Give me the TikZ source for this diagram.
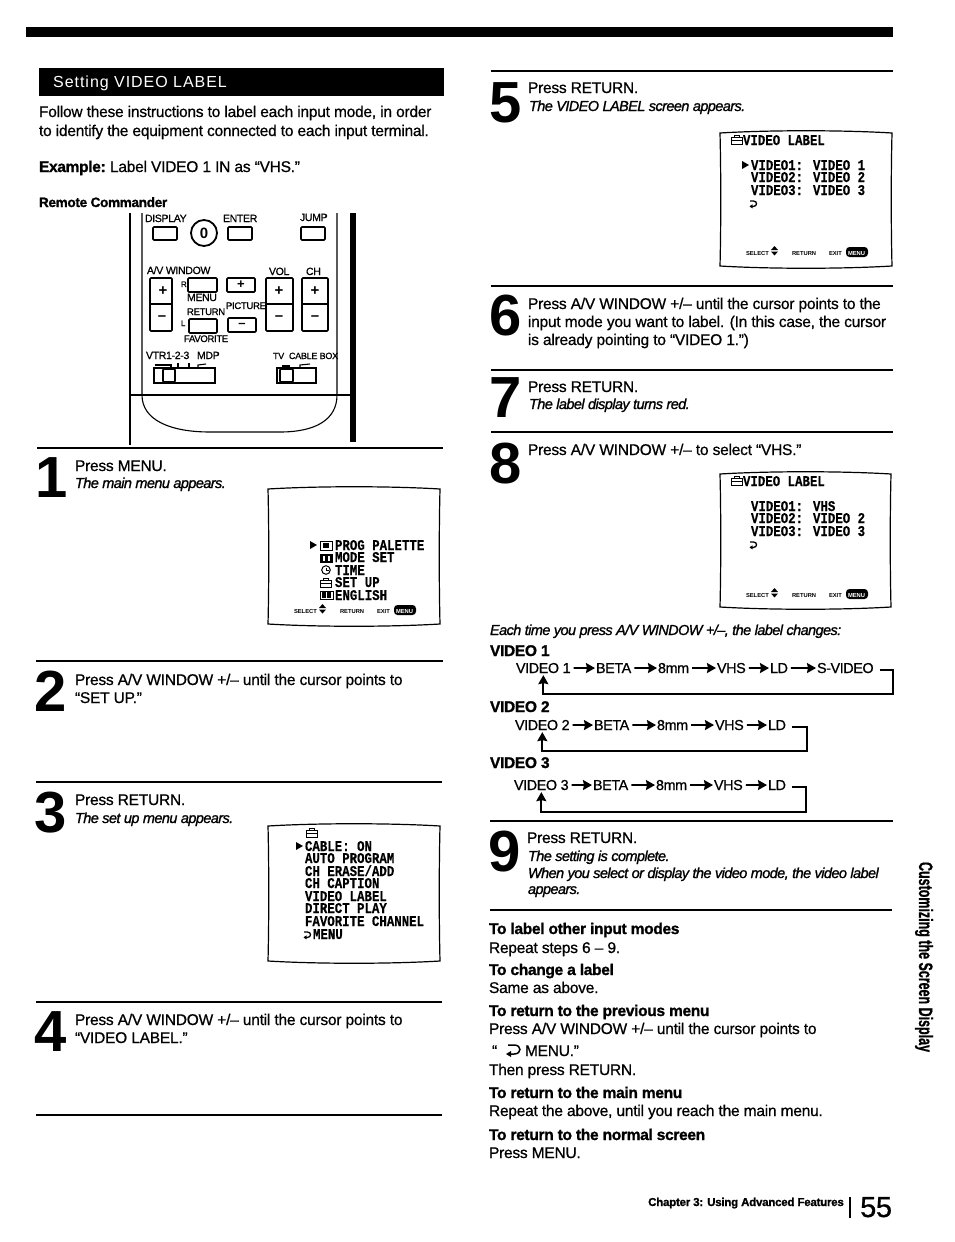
\documentclass[tikz,border=0pt]{standalone}
\usepackage{fontspec}
\usepackage{graphicx}
\setmainfont{Liberation Sans}
\newfontfamily\bodyf[LetterSpace=-1.5,FakeBold=0.7]{Liberation Sans}
\newfontfamily\flowf[LetterSpace=-3,FakeBold=0.7]{Liberation Sans}
\newfontfamily\headf[LetterSpace=-2,FakeBold=1.2]{Liberation Sans}
\newfontfamily\itf[LetterSpace=-4,FakeBold=1.2]{Liberation Sans}
\newfontfamily\plainf[LetterSpace=6]{Liberation Sans}
\newfontfamily\monof[FakeBold=0.4]{Liberation Mono}
\newfontfamily\remf[LetterSpace=-3,FakeBold=0.7]{Liberation Sans}
\newfontfamily\sidef[FakeBold=1]{Liberation Sans}
\usetikzlibrary{arrows.meta}
\tikzset{
  txt/.style={anchor=base west,inner sep=0pt,outer sep=0pt,font=\bodyf\fontsize{15.5}{18}\selectfont},
  hd/.style={anchor=base west,inner sep=0pt,outer sep=0pt,font=\headf\bfseries\fontsize{15.5}{18}\selectfont},
  ital/.style={anchor=base west,inner sep=0pt,outer sep=0pt,font=\itf\itshape\fontsize{14.5}{17}\selectfont},
  numeral/.style={anchor=base west,inner sep=0pt,outer sep=0pt,font=\bfseries\fontsize{58}{58}\selectfont},
  rem/.style={anchor=base west,inner sep=0pt,outer sep=0pt,font=\remf\fontsize{10.5}{11}\selectfont},
  scr/.style={anchor=base west,inner sep=0pt,outer sep=0pt,font=\monof\bfseries\fontsize{12.4}{12}\selectfont},
  ftr/.style={anchor=base west,inner sep=0pt,outer sep=0pt,font=\bfseries\fontsize{5.8}{6}\selectfont},
  flow/.style={anchor=base west,inner sep=0pt,outer sep=0pt,font=\flowf\fontsize{14.4}{18}\selectfont},
  rulel/.style={line width=1.8pt,black},
  btn/.style={draw=black,line width=1.7pt,rounded corners=1pt,fill=white},
  thin/.style={line width=1.1pt,black},
  screenbox/.style={draw=black,line width=1.2pt,fill=white},
  flowarr/.style={line width=1.7pt,black,-{Stealth[length=9pt,width=10pt,inset=1pt]}},
  steparr/.style={flowarr,shorten <=3pt,shorten >=1pt},
  iconl/.style={line width=1pt,black},
}
\newcommand{\screenshape}[4]{%
  \path[screenbox] (#1,#2+1) .. controls ({#1+50},{#2-2}) and ({#3-50},{#2-2}) .. (#3,#2+1)
    .. controls ({#3-1},{#2+40}) and ({#3-1},{#4-40}) .. (#3,#4-1)
    .. controls ({#3-50},{#4+2}) and ({#1+50},{#4+2}) .. (#1,#4-1)
    .. controls ({#1+1},{#4-40}) and ({#1+1},{#2+40}) .. cycle;}
\newcommand{\suitcase}[2]{%
  \draw[iconl] (#1,#2+2) rectangle ({#1+11},{#2+9});
  \draw[iconl] (#1,#2+5) -- ({#1+11},{#2+5});
  \draw[iconl] ({#1+3},#2+2) -- ({#1+3},#2) -- ({#1+8},#2) -- ({#1+8},#2+2);}
\newcommand{\retsym}[2]{%
  \draw[line width=1.3pt,black] (#1,#2) -- ({#1+3.5},#2) .. controls ({#1+7.5},#2) and ({#1+7.5},{#2+5.4}) .. ({#1+3.5},{#2+5.4}) -- (#1,{#2+5.4});
  \fill[black] ({#1-.5},{#2+5.4}) -- ({#1+2.5},{#2+3.4}) -- ({#1+2.5},{#2+7.4}) -- cycle;}
\newcommand{\rtri}[2]{\fill[black] (#1,{#2-4}) -- ({#1+7},#2) -- (#1,{#2+4}) -- cycle;}
\newcommand{\scrfoot}[3]{%
  \node[ftr] (#1sel) at (#2,#3) {SELECT};
  \fill[black] ({#2+25},{#3-5}) -- ({#2+28.5},{#3-9}) -- ({#2+32},{#3-5}) -- cycle;
  \fill[black] ({#2+25},{#3-3.5}) -- ({#2+28.5},{#3+.5}) -- ({#2+32},{#3-3.5}) -- cycle;
  \node[ftr] (#1ret) at ({#2+46},#3) {RETURN};
  \node[ftr] (#1exit) at ({#2+83},#3) {EXIT};
  \fill[black,rounded corners=3.5pt] ({#2+100},{#3-8}) rectangle ({#2+122},{#3+2});
  \node[ftr,text=white] (#1menu) at ({#2+102},#3) {MENU};}
\newcommand{\scrt}[1]{\scalebox{1}[1.2]{#1}}
\begin{document}
\begin{tikzpicture}[x=1pt,y=-1pt]
\useasboundingbox (0,0) rectangle (954,1242);
\fill[white] (0,0) rectangle (954,1242);
% top bar
\fill[black] (26,27) rectangle (893,37);
% heading bar
\fill[black] (39,68) rectangle (444,96);
\node[anchor=base west,inner sep=0pt,text=white,font=\plainf\fontsize{16}{18}\selectfont] (title) at (53,87) {Setting VIDEO LABEL};
\node[txt] (intro1) at (39,117) {Follow these instructions to label each input mode, in order};
\node[txt] (intro2) at (39,136) {to identify the equipment connected to each input terminal.};
\node[hd] (example) at (39,172) {Example:};
\node[txt] (examplet) at (110,172) {Label VIDEO 1 IN as “VHS.”};
\node[hd,font=\headf\bfseries\fontsize{13.5}{16}\selectfont] (remote) at (39,207) {Remote Commander};

% ---- remote
\draw[line width=1.6pt] (130,213) -- (130,445);
\draw[thin] (142,213) -- (142,395) .. controls (142,420) and (170,432) .. (210,432) -- (280,432) .. controls (315,432) and (337,420) .. (337,395) -- (337,213);
\fill[black] (350,213) rectangle (356,442);
\draw[thin] (130,395) -- (352,395);
\node[rem] (rdisplay) at (145,222) {DISPLAY};
\node[rem] (renter) at (223,222) {ENTER};
\node[rem] (rjump) at (300,221) {JUMP};
\draw[btn] (153,227) rectangle (177,240);
\draw[btn] (228,227) rectangle (252,240);
\draw[btn] (301,227) rectangle (325,240);
\draw[line width=1.8pt] (204,233) circle[radius=13];
\node[anchor=center,inner sep=0pt,font=\bfseries\fontsize{15}{15}\selectfont] (rzero) at (204,233) {0};
\node[rem] (rav) at (147,274) {A/V WINDOW};
\draw[btn] (150,278) rectangle (172,331);
\draw[line width=1.3pt] (150,304) -- (172,304);
\node[anchor=center,inner sep=0pt,font=\bfseries\fontsize{15}{15}\selectfont] (ravp) at (163,291) {+};
\node[anchor=center,inner sep=0pt,font=\bfseries\fontsize{15}{15}\selectfont] (ravm) at (162,318) {–};
\node[rem,font=\remf\fontsize{8}{9}\selectfont] (rr) at (181,287) {R};
\draw[btn] (188,278) rectangle (217,292);
\node[rem] (rmenu) at (187,301) {MENU};
\node[rem,font=\remf\fontsize{9.5}{10}\selectfont] (rreturn) at (187,315) {RETURN};
\node[rem,font=\remf\fontsize{8}{9}\selectfont] (rl) at (181,326) {L};
\draw[btn] (189,319) rectangle (217,333);
\node[rem,font=\remf\fontsize{9.5}{10}\selectfont] (rfav) at (184,342) {FAVORITE};
\draw[btn] (227,278) rectangle (255,292);
\node[anchor=center,inner sep=0pt,font=\bfseries\fontsize{13}{13}\selectfont] (rpp) at (241,285) {+};
\node[rem,font=\remf\fontsize{9.5}{10}\selectfont] (rpicture) at (226,309) {PICTURE};
\draw[btn] (228,318) rectangle (256,332);
\node[anchor=center,inner sep=0pt,font=\bfseries\fontsize{13}{13}\selectfont] (rpm) at (242,325) {–};
\node[rem] (rvol) at (269,275) {VOL};
\draw[btn] (266,278) rectangle (293,331);
\draw[line width=1.3pt] (266,304) -- (293,304);
\node[anchor=center,inner sep=0pt,font=\bfseries\fontsize{15}{15}\selectfont] (rvp) at (279,291) {+};
\node[anchor=center,inner sep=0pt,font=\bfseries\fontsize{15}{15}\selectfont] (rvm) at (279,318) {–};
\node[rem] (rch) at (306,275) {CH};
\draw[btn] (302,278) rectangle (328,331);
\draw[line width=1.3pt] (302,304) -- (328,304);
\node[anchor=center,inner sep=0pt,font=\bfseries\fontsize{15}{15}\selectfont] (rcp) at (315,291) {+};
\node[anchor=center,inner sep=0pt,font=\bfseries\fontsize{15}{15}\selectfont] (rcm) at (315,318) {–};
\node[rem] (rvtr) at (146,359) {VTR1-2-3};
\node[rem] (rmdp) at (197,359) {MDP};
\draw[thin] (155,365) -- (171,365) -- (171,368);
\draw[thin] (178,363) -- (178,367);
\draw[thin] (189,363) -- (189,367);
\draw[thin] (198,367) -- (198,365) -- (206,364);
\draw[line width=1.6pt] (154,368) rectangle (215,383);
\draw[btn] (163,369) rectangle (175,382);
\node[rem,font=\remf\fontsize{9}{10}\selectfont] (rtv) at (273,359) {TV};
\node[rem,font=\remf\fontsize{9}{10}\selectfont] (rcable) at (289,359) {CABLE BOX};
\draw[line width=1.6pt] (277,368) rectangle (316,383);
\draw[btn] (280,369) rectangle (293,382);
\draw[line width=2pt] (282,366) -- (290,366);
\draw[thin] (300,367) -- (300,365) -- (310,364);

% ---- left column
\draw[rulel] (37,448) -- (443,448);
\node[numeral] (n1) at (35,497) {1};
\node[txt] (s1a) at (75,471) {Press MENU.};
\node[ital] (s1b) at (75,488) {The main menu appears.};
\screenshape{268}{488}{440}{625}
\rtri{310}{545}
\draw[iconl] (320,541) rectangle (332,550);
\fill[black] (323,543) rectangle (329,548);
\node[scr] (m1) at (335,550) {\scrt{PROG PALETTE}};
\fill[black] (320,554) rectangle (333,563);
\fill[white] (323,556) rectangle (325,561);
\fill[white] (328,556) rectangle (330,561);
\node[scr] (m2) at (335,562) {\scrt{MODE SET}};
\draw[iconl] (326,570) circle[radius=4.3];
\draw[iconl] (326,567.5) -- (326,570) -- (329,570);
\node[scr] (m3) at (335,575) {\scrt{TIME}};
\suitcase{320}{578}
\node[scr] (m4) at (335,587) {\scrt{SET UP}};
\draw[iconl] (320,591) rectangle (333,599);
\fill[black] (322,592) rectangle (326,598);
\fill[black] (327,592) rectangle (331,598);
\node[scr] (m5) at (335,600) {\scrt{ENGLISH}};
\scrfoot{fa}{294}{613}

\draw[rulel] (36,661) -- (443,661);
\node[numeral] (n2) at (34,711) {2};
\node[txt] (s2a) at (75,685) {Press A/V WINDOW +/– until the cursor points to};
\node[txt] (s2b) at (75,703) {“SET UP.”};

\draw[rulel] (36,782) -- (442,782);
\node[numeral] (n3) at (34,832) {3};
\node[txt] (s3a) at (75,805) {Press RETURN.};
\node[ital] (s3b) at (75,823) {The set up menu appears.};
\screenshape{268}{825}{440}{962}
\suitcase{306}{828}
\rtri{296}{846}
\node[scr] (c1) at (305,851) {\scrt{CABLE: ON}};
\node[scr] (c2) at (305,863) {\scrt{AUTO PROGRAM}};
\node[scr] (c3) at (305,876) {\scrt{CH ERASE/ADD}};
\node[scr] (c4) at (305,888) {\scrt{CH CAPTION}};
\node[scr] (c5) at (305,901) {\scrt{VIDEO LABEL}};
\node[scr] (c6) at (305,913) {\scrt{DIRECT PLAY}};
\node[scr] (c7) at (305,926) {\scrt{FAVORITE CHANNEL}};
\retsym{304}{932}
\node[scr] (c8) at (313,939) {\scrt{MENU}};

\draw[rulel] (36,1002) -- (442,1002);
\node[numeral] (n4) at (34,1051) {4};
\node[txt] (s4a) at (75,1025) {Press A/V WINDOW +/– until the cursor points to};
\node[txt] (s4b) at (75,1043) {“VIDEO LABEL.”};
\draw[rulel] (36,1115) -- (442,1115);

% ---- right column
\draw[rulel] (491,71) -- (893,71);
\node[numeral] (n5) at (489,122) {5};
\node[txt] (s5a) at (528,93) {Press RETURN.};
\node[ital] (s5b) at (529,111) {The VIDEO LABEL screen appears.};
\screenshape{720}{132}{892}{267}
\suitcase{731}{135}
\node[scr] (v0) at (743,145) {\scrt{VIDEO LABEL}};
\rtri{742}{165}
\node[scr] (v1) at (751,170) {\scrt{VIDEO1: VIDEO 1}};
\node[scr] (v2) at (751,182) {\scrt{VIDEO2: VIDEO 2}};
\node[scr] (v3) at (751,195) {\scrt{VIDEO3: VIDEO 3}};
\retsym{750}{201}
\scrfoot{fb}{746}{255}

\draw[rulel] (491,286) -- (893,286);
\node[numeral] (n6) at (489,335) {6};
\node[txt] (s6a) at (528,309) {Press A/V WINDOW +/– until the cursor points to the};
\node[txt] (s6b) at (528,327) {input mode you want to label. (In this case, the cursor};
\node[txt] (s6c) at (528,345) {is already pointing to “VIDEO 1.”)};

\draw[rulel] (491,370) -- (893,370);
\node[numeral] (n7) at (489,417) {7};
\node[txt] (s7a) at (528,392) {Press RETURN.};
\node[ital] (s7b) at (529,409) {The label display turns red.};

\draw[rulel] (491,432) -- (893,432);
\node[numeral] (n8) at (489,483) {8};
\node[txt] (s8a) at (528,455) {Press A/V WINDOW +/– to select “VHS.”};
\screenshape{720}{473}{891}{608}
\suitcase{731}{476}
\node[scr] (w0) at (743,486) {\scrt{VIDEO LABEL}};
\node[scr] (w1) at (751,511) {\scrt{VIDEO1: VHS}};
\node[scr] (w2) at (751,523) {\scrt{VIDEO2: VIDEO 2}};
\node[scr] (w3) at (751,536) {\scrt{VIDEO3: VIDEO 3}};
\retsym{750}{542}
\scrfoot{fc}{746}{597}

\node[ital] (each) at (490,635) {Each time you press A/V WINDOW +/–, the label changes:};

\node[hd] (h1) at (490,656) {VIDEO 1};
\node[flow] (a1) at (516,673) {VIDEO 1};
\node[flow] (a2) at (596,673) {BETA};
\node[flow] (a3) at (658,673) {8mm};
\node[flow] (a4) at (717,673) {VHS};
\node[flow] (a5) at (770,673) {LD};
\node[flow] (a6) at (817,673) {S-VIDEO};
\draw[steparr] (a1) -- (a2);
\draw[steparr] (a2) -- (a3);
\draw[steparr] (a3) -- (a4);
\draw[steparr] (a4) -- (a5);
\draw[steparr] (a5) -- (a6);
\coordinate (ar) at (893,694);
\draw[flowarr] ([xshift=6pt,yshift=-2pt]a6.east) -| (ar) -| ([yshift=-2pt]a1.south);

\node[hd] (h2) at (490,712) {VIDEO 2};
\node[flow] (b1) at (515,730) {VIDEO 2};
\node[flow] (b2) at (594,730) {BETA};
\node[flow] (b3) at (657,730) {8mm};
\node[flow] (b4) at (715,730) {VHS};
\node[flow] (b5) at (768,730) {LD};
\draw[steparr] (b1) -- (b2);
\draw[steparr] (b2) -- (b3);
\draw[steparr] (b3) -- (b4);
\draw[steparr] (b4) -- (b5);
\coordinate (br) at (807,751);
\draw[flowarr] ([xshift=6pt,yshift=-2pt]b5.east) -| (br) -| ([yshift=-2pt]b1.south);

\node[hd] (h3) at (490,768) {VIDEO 3};
\node[flow] (d1) at (514,790) {VIDEO 3};
\node[flow] (d2) at (593,790) {BETA};
\node[flow] (d3) at (656,790) {8mm};
\node[flow] (d4) at (714,790) {VHS};
\node[flow] (d5) at (768,790) {LD};
\draw[steparr] (d1) -- (d2);
\draw[steparr] (d2) -- (d3);
\draw[steparr] (d3) -- (d4);
\draw[steparr] (d4) -- (d5);
\coordinate (dr) at (806,812);
\draw[flowarr] ([xshift=6pt,yshift=-2pt]d5.east) -| (dr) -| ([yshift=-2pt]d1.south);

\draw[rulel] (490,821) -- (893,821);
\node[numeral] (n9) at (488,871) {9};
\node[txt] (s9a) at (527,843) {Press RETURN.};
\node[ital] (s9b) at (528,861) {The setting is complete.};
\node[ital] (s9c) at (528,878) {When you select or display the video mode, the video label};
\node[ital] (s9d) at (528,894) {appears.};

\draw[rulel] (490,910) -- (892,910);
\node[hd] (t1) at (489,934) {To label other input modes};
\node[txt] (t2) at (489,953) {Repeat steps 6 – 9.};
\node[hd] (t3) at (489,975) {To change a label};
\node[txt] (t4) at (489,993) {Same as above.};
\node[hd] (t5) at (489,1016) {To return to the previous menu};
\node[txt] (t6) at (489,1034) {Press A/V WINDOW +/– until the cursor points to};
\node[txt] (t7a) at (492,1056) {“};
\draw[line width=1.5pt,black] (508,1045) -- (514,1045) .. controls (522,1045) and (522,1054) .. (514,1054) -- (508,1054);
\fill[black] (506,1054) -- (511,1051) -- (511,1057) -- cycle;
\node[txt] (t7b) at (525,1056) {MENU.”};
\node[txt] (t8) at (489,1075) {Then press RETURN.};
\node[hd] (t9) at (489,1098) {To return to the main menu};
\node[txt] (t10) at (489,1116) {Repeat the above, until you reach the main menu.};
\node[hd] (t11) at (489,1140) {To return to the normal screen};
\node[txt] (t12) at (489,1158) {Press MENU.};

% footer
\node[anchor=base west,inner sep=0pt,font=\headf\bfseries\fontsize{11.5}{14}\selectfont] (chap) at (648,1206) {Chapter 3: Using Advanced Features};
\draw[line width=1.4pt] (850,1197) -- (850,1218);
\node[anchor=base west,inner sep=0pt,font=\bodyf\fontsize{29}{29}\selectfont] (pnum) at (860,1217) {55};
% side label
\node[rotate=-90,inner sep=0pt,font=\sidef\bfseries] (side) at (924,957) {\resizebox{190pt}{14pt}{Customizing the Screen Display}};
\end{tikzpicture}
\end{document}
